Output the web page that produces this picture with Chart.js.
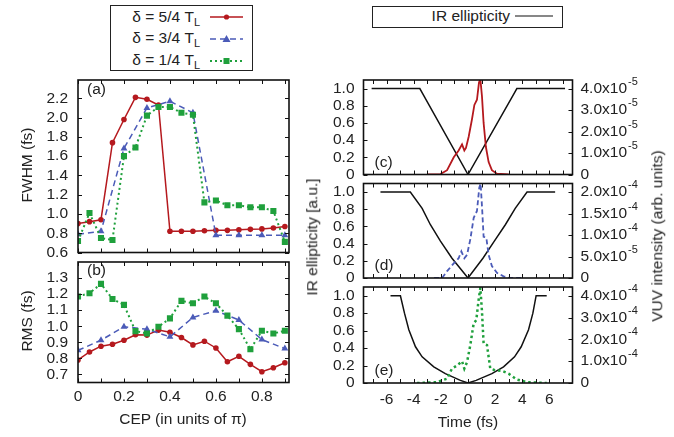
<!DOCTYPE html>
<html>
<head>
<meta charset="utf-8">
<script src="https://cdn.jsdelivr.net/npm/chart.js@4.4.1/dist/chart.umd.min.js"></script>
<style>
  body { margin: 0; background: #fff; }
  #wrap { position: relative; width: 674px; height: 437px; overflow: hidden;
          font-family: "Liberation Sans", Arial, sans-serif; font-size: 15.5px; color: #222; }
  canvas { position: absolute; left: 0; top: 0; }
  .lbl { position: absolute; white-space: nowrap; line-height: 1; transform: translate(-50%, -50%); }
  .rot { transform: translate(-50%, -50%) rotate(-90deg); }
  .key { position: absolute; border: 1.5px solid #222; box-sizing: border-box; background: #fff; }
  .krow { position: absolute; white-space: nowrap; line-height: 1; text-align: right; }
  sub { font-size: 11px; vertical-align: -4px; line-height: 0; }
</style>
</head>
<body>
<div id="wrap">
  <canvas id="cA" width="674" height="437"></canvas>
  <canvas id="cB" width="674" height="437"></canvas>
  <canvas id="cC" width="674" height="437"></canvas>
  <canvas id="cD" width="674" height="437"></canvas>
  <canvas id="cE" width="674" height="437"></canvas>

  <div class="key" style="left:110px;top:5px;width:143px;height:66px"></div>
  <div class="krow" style="right:474px;top:9px">&delta; = 5/4 T<sub>L</sub></div>
  <div class="krow" style="right:474px;top:30px">&delta; = 3/4 T<sub>L</sub></div>
  <div class="krow" style="right:474px;top:52px">&delta; = 1/4 T<sub>L</sub></div>
  <svg style="position:absolute;left:205px;top:5px" width="45" height="66">
    <line x1="5" y1="12" x2="38" y2="12" stroke="#b5191e" stroke-width="1.5"/>
    <circle cx="21.5" cy="12" r="2.6" fill="#b5191e"/>
    <line x1="5" y1="34" x2="38" y2="34" stroke="#4b5bb8" stroke-width="1.5" stroke-dasharray="6,4"/>
    <polygon points="21.5,30 25.5,37 17.5,37" fill="#4b5bb8"/>
    <line x1="5" y1="56" x2="38" y2="56" stroke="#1fa03c" stroke-width="2" stroke-dasharray="2,3"/>
    <rect x="18.5" y="53" width="6" height="6" fill="#1fa03c"/>
  </svg>

  <div class="key" style="left:372px;top:6px;width:191px;height:22px"></div>
  <div class="krow" style="right:164px;top:8px">IR ellipticity</div>
  <svg style="position:absolute;left:512px;top:10px" width="45" height="12">
    <line x1="3" y1="6" x2="41" y2="6" stroke="#111" stroke-width="1.2"/>
  </svg>

  <div class="lbl rot" style="left:27px;top:165px">FWHM (fs)</div>
  <div class="lbl rot" style="left:27px;top:321px">RMS (fs)</div>
  <div class="lbl" style="left:183px;top:419px">CEP (in units of &pi;)</div>
  <div class="lbl" style="left:468px;top:422px">Time (fs)</div>
  <div class="lbl rot" style="left:312px;top:237px">IR ellipticity [a.u.]</div>
  <div class="lbl rot" style="left:657px;top:236px">VUV intensity (arb. units)</div>
</div>

<script>
var W = 674, H = 437;
var GUT_V = 60, GUT_H = 30;   // fixed room for tick labels beside/below each plot
var FONT = '"Liberation Sans", Arial, sans-serif';
var RED = '#b5191e', BLUE = '#4b5bb8', GREEN = '#1fa03c', INK = '#222';

// CEP scan (units of pi); the 3/4 T_L run was sampled every 0.1
var cepFine = [0, 0.05, 0.1, 0.15, 0.2, 0.25, 0.3, 0.35, 0.4, 0.45, 0.5, 0.55, 0.6, 0.65, 0.7, 0.75, 0.8, 0.85, 0.9];
var cepCoarse = [0, 0.1, 0.2, 0.3, 0.4, 0.5, 0.6, 0.7, 0.8, 0.9];

// (a) FWHM in fs
var fwhm54 = [0.90, 0.92, 0.94, 1.74, 1.98, 2.21, 2.19, 2.13, 0.82, 0.82, 0.82, 0.825, 0.83, 0.83, 0.835, 0.84, 0.845, 0.855, 0.87];
var fwhm34 = [0.79, 0.82, 1.68, 2.10, 2.17, 2.05, 0.78, 0.78, 0.78, 0.78];
var fwhm14 = [0.72, 1.01, 0.75, 0.73, 1.60, 1.69, 2.02, 2.11, 2.11, 2.05, 2.03, 1.12, 1.14, 1.09, 1.09, 1.07, 1.07, 1.03, 0.71];

// (b) RMS in fs
var rms54 = [0.79, 0.84, 0.876, 0.888, 0.913, 0.947, 0.945, 0.976, 0.963, 0.93, 0.884, 0.907, 0.865, 0.779, 0.813, 0.763, 0.717, 0.742, 0.773];
var rms34 = [0.85, 0.913, 0.997, 0.982, 0.934, 1.055, 1.097, 1.039, 0.917, 0.861];
var rms14 = [1.185, 1.206, 1.264, 1.17, 1.133, 0.97, 0.955, 0.997, 1.049, 1.158, 1.143, 1.185, 1.143, 1.066, 0.982, 0.857, 0.972, 0.955, 0.972];

// IR ellipticity vs time (fs)
var ellC_t = [-7.1, -3.55, -3.3, 0, 3.35, 3.6, 7.15];
var ellC_v = [1.0, 1.0, 0.93, 0, 0.93, 1.0, 1.0];
var ellD_t = [-6.45, -4.25, -3.38, -2.77, -2.03, -1.18, 0, 1.1, 1.94, 2.75, 3.48, 4.35, 6.42];
var ellD_v = [1.0, 1.0, 0.81, 0.62, 0.43, 0.23, 0, 0.23, 0.43, 0.62, 0.81, 1.0, 1.0];
var ellE_t = [-5.71, -4.98, -4.68, -4.36, -3.87, -3.38, -2.52, -1.67, -0.56, 0, 0.6, 1.76, 2.62, 3.43, 3.92, 4.46, 4.78, 5.02, 5.8];
var ellE_v = [1.0, 1.0, 0.8, 0.61, 0.415, 0.3, 0.185, 0.108, 0.03, 0, 0.03, 0.108, 0.185, 0.3, 0.415, 0.61, 0.8, 1.0, 1.0];

// VUV intensity (arb. units) vs time (fs)
var vuvC_t = [-3.0, -2.03, -1.54, -1.05, -0.69, -0.44, -0.27, -0.15, 0.05, 0.29, 0.47, 0.66, 0.81, 0.91, 1.03, 1.15, 1.32, 1.52, 1.76, 2.13, 3.0];
var vuvC_v = [0, 0.2e-6, 2.0e-6, 8.0e-6, 1.12e-5, 1.4e-5, 1.12e-5, 1.24e-5, 1.76e-5, 2.56e-5, 3.24e-5, 3.48e-5, 4.28e-5, 4.45e-5, 3.64e-5, 2.4e-5, 1.28e-5, 5.8e-6, 2.0e-6, 0.4e-6, 0];
var vuvD_t = [-2.5, -1.91, -1.54, -1.05, -0.69, -0.49, -0.27, -0.07, 0.17, 0.42, 0.66, 0.83, 0.93, 1.05, 1.15, 1.35, 1.52, 1.76, 2.13, 2.62, 3.1, 4.0];
var vuvD_v = [0, 0, 1.6e-5, 3.4e-5, 4.6e-5, 6.2e-5, 4.6e-5, 5.4e-5, 9.0e-5, 1.4e-4, 1.56e-4, 2.1e-4, 2.2e-4, 1.56e-4, 9.6e-5, 9.4e-5, 5.4e-5, 2.8e-5, 1.2e-5, 4e-6, 0, 0];
var vuvE_t = [-3.75, -2.28, -1.54, -1.18, -0.81, -0.44, -0.27, -0.07, 0.17, 0.42, 0.61, 0.78, 0.91, 1.03, 1.15, 1.4, 1.64, 2.01, 2.5, 2.99, 3.6, 4.34, 5.8];
var vuvE_v = [0, 4e-6, 2e-5, 6.6e-5, 8e-5, 1e-4, 6.6e-5, 9.6e-5, 1.74e-4, 2.74e-4, 2.88e-4, 3.8e-4, 4.36e-4, 3.28e-4, 1.8e-4, 1.74e-4, 6.6e-5, 5.8e-5, 5.6e-5, 4.3e-5, 1.6e-5, 4e-6, 0];

// tick positions and labels
var cepTicks = [0, 0.2, 0.4, 0.6, 0.8];
var cepTickLabels = ['0', '0.2', '0.4', '0.6', '0.8'];
var cepMarks = [0, 0.1, 0.2, 0.3, 0.4, 0.5, 0.6, 0.7, 0.8, 0.9];
var fwhmTicks = [0.6, 0.8, 1.0, 1.2, 1.4, 1.6, 1.8, 2.0, 2.2];
var fwhmTickLabels = ['0.6', '0.8', '1.0', '1.2', '1.4', '1.6', '1.8', '2.0', '2.2'];
var rmsTicks = [0.7, 0.8, 0.9, 1.0, 1.1, 1.2, 1.3];
var rmsTickLabels = ['0.7', '0.8', '0.9', '1.0', '1.1', '1.2', '1.3'];
var timeTicks = [-6, -4, -2, 0, 2, 4, 6];
var timeTickLabels = ['-6', '-4', '-2', '0', '2', '4', '6'];
var timeMarks = [-7, -6, -5, -4, -3, -2, -1, 0, 1, 2, 3, 4, 5, 6, 7];
var ellTicks = [0, 0.2, 0.4, 0.6, 0.8, 1.0];
var ellTickLabels = ['0', '0.2', '0.4', '0.6', '0.8', '1.0'];
var vuvC_ticks = [0, 1e-5, 2e-5, 3e-5, 4e-5];
var vuvC_labels = ['0', '1.0x10^-5', '2.0x10^-5', '3.0x10^-5', '4.0x10^-5'];
var vuvD_ticks = [0, 5e-5, 1e-4, 1.5e-4, 2e-4];
var vuvD_labels = ['0', '5.0x10^-5', '1.0x10^-4', '1.5x10^-4', '2.0x10^-4'];
var vuvE_ticks = [0, 1e-4, 2e-4, 3e-4, 4e-4];
var vuvE_labels = ['0', '1.0x10^-4', '2.0x10^-4', '3.0x10^-4', '4.0x10^-4'];

function zip(xs, ys) {
    return xs.map(function(x, i) { return {x: x, y: ys[i]}; });
}

// frame, inward tick marks, panel tag and superscripted right-axis labels
var framePlugin = {
    id: 'frame',
    afterDatasetsDraw: function(chart, args, opts) {
        var ctx = chart.ctx, a = chart.chartArea;
        ctx.save();
        ctx.strokeStyle = '#111';
        ctx.lineWidth = 1;
        (opts.marks || []).forEach(function(m) {
            var sc = chart.scales[m.scale];
            m.values.forEach(function(v) {
                var p = Math.round(sc.getPixelForValue(v)) + 0.5;
                ctx.beginPath();
                if (sc.isHorizontal()) {
                    ctx.moveTo(p, a.bottom); ctx.lineTo(p, a.bottom - m.len);
                    ctx.moveTo(p, a.top); ctx.lineTo(p, a.top + m.len);
                } else {
                    if (m.side !== 'right') { ctx.moveTo(a.left, p); ctx.lineTo(a.left + m.len, p); }
                    if (m.side !== 'left') { ctx.moveTo(a.right, p); ctx.lineTo(a.right - m.len, p); }
                }
                ctx.stroke();
            });
        });
        ctx.lineWidth = 1.6;
        ctx.strokeRect(a.left, a.top, a.right - a.left, a.bottom - a.top);

        ctx.fillStyle = INK;
        ctx.font = '15.5px ' + FONT;
        ctx.textBaseline = 'middle';
        ctx.textAlign = 'left';
        if (opts.tag) {
            var ty = opts.tagY >= 0 ? a.top + opts.tagY : a.bottom + opts.tagY;
            ctx.fillText(opts.tag, a.left + opts.tagX, ty);
        }
        if (opts.rightLabels) {
            var sc2 = chart.scales.y2;
            opts.rightLabels.values.forEach(function(v, i) {
                var parts = opts.rightLabels.text[i].split('^');
                var y = sc2.getPixelForValue(v), x = a.right + 8;
                ctx.font = '15.5px ' + FONT;
                ctx.fillText(parts[0], x, y);
                if (parts[1]) {
                    var w = ctx.measureText(parts[0]).width;
                    ctx.font = '11px ' + FONT;
                    ctx.fillText(parts[1], x + w + 1, y - 7);
                }
            });
        }
        ctx.restore();
    }
};

function axis(pos, min, max, ticks, labels, pad, show) {
    return {
        type: 'linear', position: pos, min: min, max: max,
        grid: { display: false, drawTicks: false },
        border: { display: false },
        ticks: {
            display: show, padding: pad, autoSkip: false, maxRotation: 0, color: INK,
            font: { family: FONT, size: 15.5 },
            callback: function(v, i) { return labels[i]; }
        },
        afterBuildTicks: function(s) { s.ticks = ticks.map(function(v) { return {value: v}; }); },
        afterFit: function(s) {
            if (s.isHorizontal()) s.height = GUT_H;
            else s.width = (pos === 'left') ? GUT_V : 0;
        }
    };
}

function panel(id, area, datasets, scales, frame) {
    return new Chart(document.getElementById(id), {
        type: 'line',
        data: { datasets: datasets },
        options: {
            responsive: false, animation: false, devicePixelRatio: 1,
            layout: { padding: {
                left: area[0] - GUT_V, top: area[1],
                right: W - area[2], bottom: H - area[3] - GUT_H
            } },
            elements: { line: { tension: 0 } },
            plugins: { legend: { display: false }, tooltip: { enabled: false }, frame: frame },
            scales: scales
        },
        plugins: [framePlugin]
    });
}

function markSeries(data, color, style, radius, dash, width) {
    return {
        data: data, borderColor: color, backgroundColor: color, borderWidth: width,
        borderDash: dash, pointStyle: style, pointRadius: radius, pointBorderWidth: 0
    };
}

function curve(data, color, dash, width, axisId) {
    return {
        data: data, borderColor: color, borderWidth: width, borderDash: dash,
        pointRadius: 0, yAxisID: axisId || 'y'
    };
}

// (a) FWHM vs CEP
panel('cA', [78, 80, 289, 252.5], [
    markSeries(zip(cepFine, fwhm14), GREEN, 'rect', 4.3, [2, 3], 2),
    markSeries(zip(cepCoarse, fwhm34), BLUE, 'triangle', 4, [6, 4], 1.5),
    markSeries(zip(cepFine, fwhm54), RED, 'circle', 2.8, [], 1.5)
], {
    x: axis('bottom', 0, 0.918, cepTicks, cepTickLabels, 5, false),
    y: axis('left', 0.6, 2.39, fwhmTicks, fwhmTickLabels, 10, true)
}, {
    tag: '(a)', tagX: 9, tagY: 10,
    marks: [{ scale: 'x', values: cepMarks, len: 4 }, { scale: 'y', values: fwhmTicks, len: 4 }]
});

// (b) RMS vs CEP
panel('cB', [78, 262, 289, 382.5], [
    markSeries(zip(cepFine, rms14), GREEN, 'rect', 4.3, [2, 3], 2),
    markSeries(zip(cepCoarse, rms34), BLUE, 'triangle', 4, [6, 4], 1.5),
    markSeries(zip(cepFine, rms54), RED, 'circle', 2.8, [], 1.5)
], {
    x: axis('bottom', 0, 0.918, cepTicks, cepTickLabels, 5, true),
    y: axis('left', 0.65, 1.4, rmsTicks, rmsTickLabels, 10, true)
}, {
    tag: '(b)', tagX: 9, tagY: 9,
    marks: [{ scale: 'x', values: cepMarks, len: 4 }, { scale: 'y', values: rmsTicks, len: 4 }]
});

// (c)-(e) ellipticity and VUV intensity vs time
function timePanel(id, area, ellT, ellV, vuvT, vuvV, color, dash, width, vuvMax, vuvTicks, vuvLabels, tag, showX) {
    return panel(id, area, [
        curve(zip(vuvT, vuvV), color, dash, width, 'y2'),
        curve(zip(ellT, ellV), '#111', [], 1.5, 'y')
    ], {
        x: axis('bottom', -7.7, 7.7, timeTicks, timeTickLabels, 7, showX),
        y: axis('left', 0, 1.1, ellTicks, ellTickLabels, 9, true),
        y2: axis('right', 0, vuvMax, vuvTicks, vuvLabels, 8, false)
    }, {
        tag: tag, tagX: 11, tagY: -12,
        rightLabels: { values: vuvTicks, text: vuvLabels },
        marks: [
            { scale: 'x', values: timeMarks, len: 4 },
            { scale: 'y', values: ellTicks, len: 4, side: 'left' },
            { scale: 'y2', values: vuvTicks, len: 4, side: 'right' }
        ]
    });
}

timePanel('cC', [363.5, 80, 572.5, 174.5], ellC_t, ellC_v, vuvC_t, vuvC_v, RED, [], 1.8, 4.4e-5, vuvC_ticks, vuvC_labels, '(c)', false);
timePanel('cD', [363.5, 183.5, 572.5, 278], ellD_t, ellD_v, vuvD_t, vuvD_v, BLUE, [5, 3], 1.8, 2.2e-4, vuvD_ticks, vuvD_labels, '(d)', false);
timePanel('cE', [363.5, 287, 572.5, 383], ellE_t, ellE_v, vuvE_t, vuvE_v, GREEN, [2.5, 3], 2.5, 4.4e-4, vuvE_ticks, vuvE_labels, '(e)', true);
</script>
</body>
</html>
